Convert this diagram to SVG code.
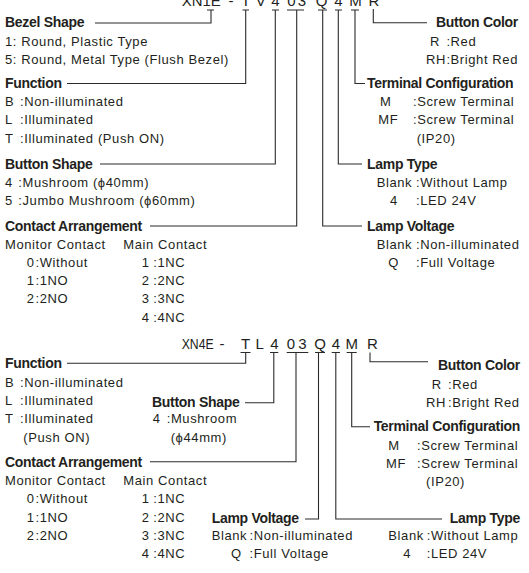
<svg xmlns="http://www.w3.org/2000/svg" width="529" height="573" viewBox="0 0 529 573">
<style>
text{font-family:"Liberation Sans",Arial,sans-serif;fill:#231f20}
.t{font-size:13px;letter-spacing:0.6px}
.h{font-size:14px;font-weight:bold;letter-spacing:-0.3px}
.c{font-size:15px;text-anchor:middle}
.p{font-size:15px}
.e{text-anchor:end}
#connectors path{fill:none;stroke:#2b2b2b;stroke-width:1.1}
</style>
<rect width="529" height="573" fill="#fff"/>
<g id="code-top">
<text class="p" x="181.7" y="6" textLength="39" lengthAdjust="spacingAndGlyphs">XN1E</text>
<text class="c" y="6"><tspan x="231">-</tspan><tspan x="245.8">T</tspan><tspan x="260.8">V</tspan><tspan x="275.5">4</tspan><tspan x="291.5">0</tspan><tspan x="302">3</tspan><tspan x="321.7">Q</tspan><tspan x="338.5">4</tspan><tspan x="355.5">M</tspan><tspan x="374">R</tspan></text>
</g>
<g id="code-bottom">
<text class="p" x="181.7" y="349" textLength="32" lengthAdjust="spacingAndGlyphs">XN4E</text>
<text class="c" y="349"><tspan x="222">-</tspan><tspan x="245.7">T</tspan><tspan x="259.7">L</tspan><tspan x="274.3">4</tspan><tspan x="291">0</tspan><tspan x="302.5">3</tspan><tspan x="320">Q</tspan><tspan x="336">4</tspan><tspan x="351.7">M</tspan><tspan x="372.5">R</tspan></text>
</g>
<g id="connectors">
<path d="M207 10H214M211 10V23H95"/>
<path d="M242.5 10H249M245.7 10V83.5H67"/>
<path d="M272 10H279M275.3 10V164H100"/>
<path d="M287 10H304M296.7 10V226H150"/>
<path d="M318 10H327M322.7 10V226H362"/>
<path d="M335 10H342M338.3 10V164H362"/>
<path d="M351 10H359M355 10V83.5H365"/>
<path d="M373.3 9V22.7H427"/>
<path d="M240.5 352.5H250.5M245.7 352.5V363.3H67"/>
<path d="M270 352.5H278.3M273.8 352.5V402.7H245"/>
<path d="M286.7 352.5H308.3M296 352.5V461.7H150"/>
<path d="M315 352.5H325M318.5 352.5V519H305"/>
<path d="M331.7 352.5H340M335.8 352.5V519H442"/>
<path d="M346.7 352.5H356.7M351.7 352.5V426.7H370"/>
<path d="M370 352.5V361.7H428"/>
</g>
<g id="top-bezel-shape">
<text class="h" x="5" y="27">Bezel Shape</text>
<text class="t" x="5" y="45.7">1: Round, Plastic Type</text>
<text class="t" x="5" y="64">5: Round, Metal Type (Flush Bezel)</text>
</g>
<g id="top-function">
<text class="h" x="5" y="88">Function</text>
<text class="t" x="5" y="106">B</text><text class="t" x="20" y="106">:Non-illuminated</text>
<text class="t" x="5" y="124.3">L</text><text class="t" x="20" y="124.3">:Illuminated</text>
<text class="t" x="5" y="142.6">T</text><text class="t" x="20" y="142.6">:Illuminated (Push ON)</text>
</g>
<g id="top-button-shape">
<text class="h" x="5" y="168.5">Button Shape</text>
<text class="t" x="5" y="187">4</text><text class="t" x="18.3" y="187">:Mushroom (ϕ40mm)</text>
<text class="t" x="5" y="205.3">5</text><text class="t" x="18.3" y="205.3">:Jumbo Mushroom (ϕ60mm)</text>
</g>
<g id="top-contact-arrangement">
<text class="h" x="5" y="230.5">Contact Arrangement</text>
<text class="t" x="5" y="248.5">Monitor Contact</text><text class="t" x="123.3" y="248.5">Main Contact</text>
<text class="t" x="26.7" y="266.8">0</text><text class="t" x="35.5" y="266.8">:Without</text>
<text class="t" x="26.7" y="285.1">1</text><text class="t" x="35.5" y="285.1">:1NO</text>
<text class="t" x="26.7" y="303.4">2</text><text class="t" x="35.5" y="303.4">:2NO</text>
<text class="t" x="141.7" y="266.8">1</text><text class="t" x="153.3" y="266.8">:1NC</text>
<text class="t" x="141.7" y="285.1">2</text><text class="t" x="153.3" y="285.1">:2NC</text>
<text class="t" x="141.7" y="303.4">3</text><text class="t" x="153.3" y="303.4">:3NC</text>
<text class="t" x="141.7" y="321.7">4</text><text class="t" x="153.3" y="321.7">:4NC</text>
</g>
<g id="top-button-color">
<text class="h e" x="518" y="27">Button Color</text>
<text class="t" x="430" y="45.7">R</text><text class="t" x="446.4" y="45.7">:Red</text>
<text class="t" x="426" y="64">RH</text><text class="t" x="446.4" y="64">:Bright Red</text>
</g>
<g id="top-terminal-configuration">
<text class="h" x="367" y="88">Terminal Configuration</text>
<text class="t" x="380" y="106">M</text><text class="t" x="413" y="106">:Screw Terminal</text>
<text class="t" x="378.3" y="124.3">MF</text><text class="t" x="413" y="124.3">:Screw Terminal</text>
<text class="t" x="416.7" y="142.6">(IP20)</text>
</g>
<g id="top-lamp-type">
<text class="h" x="367" y="168.5">Lamp Type</text>
<text class="t" x="376.7" y="187">Blank</text><text class="t" x="416" y="187">:Without Lamp</text>
<text class="t" x="390" y="205.3">4</text><text class="t" x="416" y="205.3">:LED 24V</text>
</g>
<g id="top-lamp-voltage">
<text class="h" x="367" y="230.5">Lamp Voltage</text>
<text class="t" x="376.7" y="248.5">Blank</text><text class="t" x="416" y="248.5">:Non-illuminated</text>
<text class="t" x="388.3" y="266.8">Q</text><text class="t" x="416" y="266.8">:Full Voltage</text>
</g>
<g id="bottom-function">
<text class="h" x="5" y="368">Function</text>
<text class="t" x="5" y="386.7">B</text><text class="t" x="20" y="386.7">:Non-illuminated</text>
<text class="t" x="5" y="405">L</text><text class="t" x="20" y="405">:Illuminated</text>
<text class="t" x="5" y="423.3">T</text><text class="t" x="20" y="423.3">:Illuminated</text>
<text class="t" x="23.3" y="441.7">(Push ON)</text>
</g>
<g id="bottom-button-shape">
<text class="h" x="152" y="407">Button Shape</text>
<text class="t" x="152.7" y="423.3">4</text><text class="t" x="166.7" y="423.3">:Mushroom</text>
<text class="t" x="170.7" y="441.7">(ϕ44mm)</text>
</g>
<g id="bottom-contact-arrangement">
<text class="h" x="5" y="466.5">Contact Arrangement</text>
<text class="t" x="5" y="485">Monitor Contact</text><text class="t" x="123.3" y="485">Main Contact</text>
<text class="t" x="26.7" y="503.3">0</text><text class="t" x="35.5" y="503.3">:Without</text>
<text class="t" x="26.7" y="521.7">1</text><text class="t" x="35.5" y="521.7">:1NO</text>
<text class="t" x="26.7" y="540">2</text><text class="t" x="35.5" y="540">:2NO</text>
<text class="t" x="141.7" y="503.3">1</text><text class="t" x="153.3" y="503.3">:1NC</text>
<text class="t" x="141.7" y="521.7">2</text><text class="t" x="153.3" y="521.7">:2NC</text>
<text class="t" x="141.7" y="540">3</text><text class="t" x="153.3" y="540">:3NC</text>
<text class="t" x="141.7" y="558.3">4</text><text class="t" x="153.3" y="558.3">:4NC</text>
</g>
<g id="bottom-lamp-voltage">
<text class="h" x="211.7" y="523">Lamp Voltage</text>
<text class="t" x="211.7" y="540">Blank</text><text class="t" x="249.5" y="540">:Non-illuminated</text>
<text class="t" x="231" y="558.3">Q</text><text class="t" x="249.5" y="558.3">:Full Voltage</text>
</g>
<g id="bottom-button-color">
<text class="h e" x="520" y="370">Button Color</text>
<text class="t" x="431.7" y="389">R</text><text class="t" x="448" y="389">:Red</text>
<text class="t" x="426" y="407.3">RH</text><text class="t" x="448" y="407.3">:Bright Red</text>
</g>
<g id="bottom-terminal-configuration">
<text class="h e" x="520" y="430.5">Terminal Configuration</text>
<text class="t" x="388.3" y="449.7">M</text><text class="t" x="417" y="449.7">:Screw Terminal</text>
<text class="t" x="386" y="468">MF</text><text class="t" x="417" y="468">:Screw Terminal</text>
<text class="t" x="426" y="486.3">(IP20)</text>
</g>
<g id="bottom-lamp-type">
<text class="h e" x="520" y="523">Lamp Type</text>
<text class="t" x="388.3" y="540">Blank</text><text class="t" x="426.7" y="540">:Without Lamp</text>
<text class="t" x="403.3" y="558.3">4</text><text class="t" x="426.7" y="558.3">:LED 24V</text>
</g>
</svg>
